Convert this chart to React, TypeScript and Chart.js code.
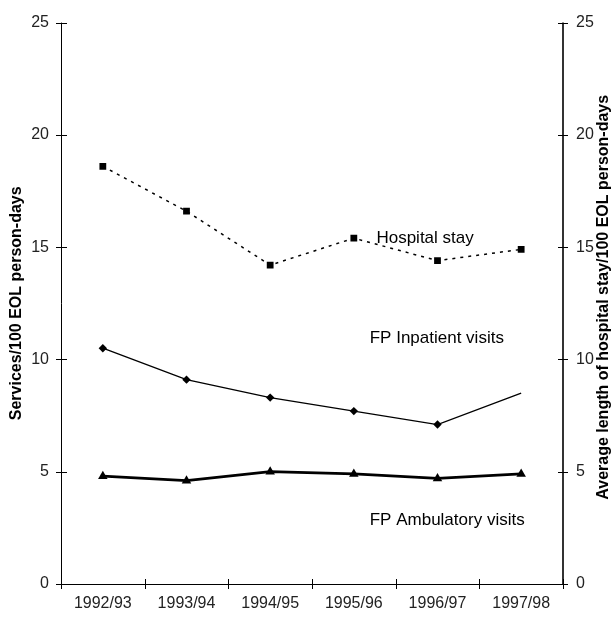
import React, { useEffect, useRef } from "react";
import { Chart, registerables } from "chart.js";

Chart.register(...registerables);

const categories = ["1992/93", "1993/94", "1994/95", "1995/96", "1996/97", "1997/98"];
const hospitalStay = [18.6, 16.6, 14.2, 15.4, 14.4, 14.9];
const fpInpatient = [10.5, 9.1, 8.3, 7.7, 7.1, 8.5];
const fpAmbulatory = [4.8, 4.6, 5.0, 4.9, 4.7, 4.9];
const yTicks = [0, 5, 10, 15, 20, 25];
const seriesLabels = ["Hospital stay", "FP Inpatient visits", "FP Ambulatory visits"];
const leftTitle = "Services/100 EOL person-days";
const rightTitle = "Average length of hospital stay/100 EOL person-days";

const FONT = "'Liberation Sans', Arial, sans-serif";

const tickPlugin = {
  id: "crossTicks",
  afterDraw(chart: any) {
    const ctx = chart.ctx;
    const { left, right, top, bottom } = chart.chartArea;
    const y = chart.scales.y;
    ctx.save();
    ctx.strokeStyle = "#000";
    ctx.lineWidth = 1;
    ctx.beginPath();
    ctx.moveTo(left + 0.5, top);
    ctx.lineTo(left + 0.5, bottom);
    ctx.moveTo(left, bottom + 0.5);
    ctx.lineTo(right, bottom + 0.5);
    ctx.stroke();
    ctx.strokeStyle = "#333";
    ctx.lineWidth = 2;
    ctx.beginPath();
    ctx.moveTo(right, top);
    ctx.lineTo(right, bottom);
    ctx.stroke();
    ctx.strokeStyle = "#000";
    ctx.lineWidth = 1;
    ctx.beginPath();
    yTicks.forEach((v) => {
      const py = Math.round(y.getPixelForValue(v)) + 0.5;
      ctx.moveTo(left - 5, py);
      ctx.lineTo(left + 6, py);
      ctx.moveTo(right - 5, py);
      ctx.lineTo(right + 5, py);
    });
    const n = categories.length;
    const step = (right - left) / n;
    for (let i = 0; i <= n; i++) {
      const px = Math.round(left + i * step) + 0.5;
      ctx.moveTo(px, bottom - 5);
      ctx.lineTo(px, bottom + 5);
    }
    ctx.stroke();

    // series annotations
    ctx.fillStyle = "#000";
    ctx.font = `17px ${FONT}`;
    ctx.textAlign = "left";
    ctx.textBaseline = "middle";
    const ann = [
      { text: seriesLabels[0], ci: 3.27, v: 15.4 },
      { text: seriesLabels[1], ci: 3.19, v: 10.95 },
      { text: seriesLabels[2], ci: 3.19, v: 2.85 },
    ];
    ann.forEach((a) => {
      const px = left + (a.ci + 0.5) * step;
      ctx.fillText(a.text, px, y.getPixelForValue(a.v));
    });

    // axis titles
    ctx.font = `bold 16px ${FONT}`;
    ctx.textAlign = "center";
    ctx.save();
    ctx.translate(17, (top + bottom) / 2);
    ctx.rotate(-Math.PI / 2);
    ctx.fillText(leftTitle, 0, 0);
    ctx.restore();
    ctx.save();
    ctx.translate(604, (top + bottom) / 2 - 6);
    ctx.rotate(-Math.PI / 2);
    ctx.fillText(rightTitle, 0, 0);
    ctx.restore();
    ctx.restore();
  },
};

export default function App() {
  const ref = useRef<HTMLCanvasElement | null>(null);
  useEffect(() => {
    document.body.style.margin = "0";
    const canvas = ref.current;
    if (!canvas) return;
    const chart = new Chart(canvas, {
      type: "line",
      data: {
        labels: categories,
        datasets: [
          {
            label: seriesLabels[0],
            data: hospitalStay,
            borderColor: "#000",
            backgroundColor: "#000",
            borderWidth: 1.5,
            borderDash: [3, 5],
            pointStyle: "rect",
            pointRadius: 4.8,
            pointBorderWidth: 0,
          },
          {
            label: seriesLabels[1],
            data: fpInpatient,
            borderColor: "#000",
            backgroundColor: "#000",
            borderWidth: 1.3,
            pointStyle: "rectRot",
            pointRadius: fpInpatient.map((_, i) => (i === fpInpatient.length - 1 ? 0 : 4.2)),
            pointBorderWidth: 0,
          },
          {
            label: seriesLabels[2],
            data: fpAmbulatory,
            borderColor: "#000",
            backgroundColor: "#000",
            borderWidth: 2.8,
            pointStyle: "triangle",
            pointRadius: 5.5,
            pointBorderWidth: 0,
          },
        ],
      },
      plugins: [tickPlugin],
      options: {
        animation: false,
        responsive: false,
        devicePixelRatio: 1,
        layout: { padding: { top: 14, left: 0, right: 0, bottom: 0 } },
        plugins: { legend: { display: false }, tooltip: { enabled: false } },
        elements: { line: { tension: 0 } },
        scales: {
          x: {
            type: "category",
            offset: true,
            grid: { display: false, drawTicks: false },
            border: { display: false },
            ticks: {
              color: "#222",
              font: { family: FONT, size: 16 },
              padding: 10,
              maxRotation: 0,
            },
            afterFit: (s: any) => {
              s.height = 34;
            },
          },
          y: {
            position: "left",
            min: 0,
            max: 25,
            grid: { display: false, drawTicks: false },
            border: { display: false },
            ticks: {
              stepSize: 5,
              color: "#222",
              font: { family: FONT, size: 16 },
              padding: 12,
            },
            afterFit: (s: any) => {
              s.width = 61;
            },
          },
          y2: {
            position: "right",
            min: 0,
            max: 25,
            grid: { display: false, drawTicks: false },
            border: { display: false },
            ticks: {
              stepSize: 5,
              color: "#222",
              font: { family: FONT, size: 16 },
              padding: 13,
            },
            afterFit: (s: any) => {
              s.width = 52;
            },
          },
        },
      },
    } as any);
    return () => chart.destroy();
  }, []);
  return (
    <div style={{ width: 615, height: 618 }}>
      <canvas ref={ref} width={615} height={618} style={{ width: 615, height: 618 }} />
    </div>
  );
}
